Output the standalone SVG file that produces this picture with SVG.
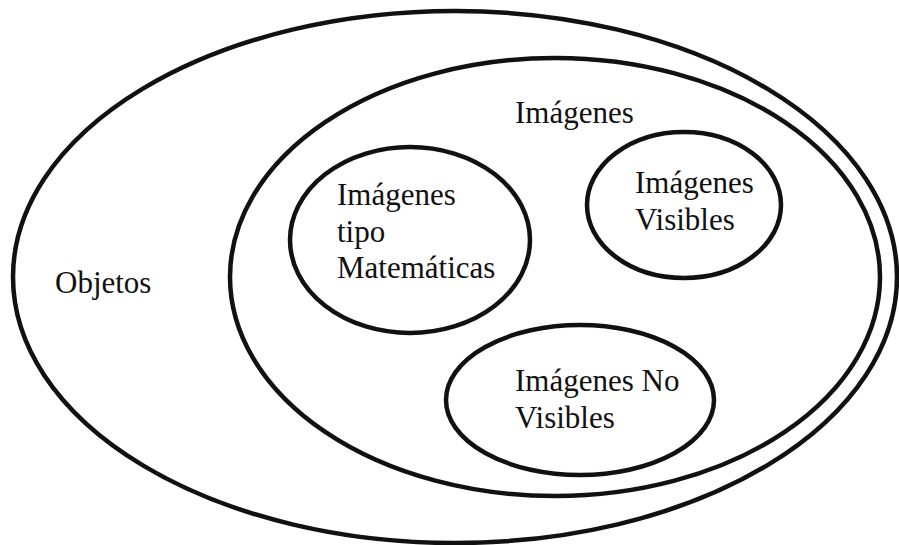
<svg xmlns="http://www.w3.org/2000/svg" width="899" height="545" viewBox="0 0 899 545">
  <style>
    .set { fill: none; stroke: #111; stroke-width: 4.5; }
    .lbl { font-family: "Liberation Serif", "Times New Roman", serif; font-size: 31px; fill: #111; }
  </style>
  <rect width="899" height="545" fill="#fff"/>
  <g id="objetos">
    <ellipse class="set" cx="455" cy="277" rx="442" ry="266"/>
    <text class="lbl" x="55" y="293">Objetos</text>
  </g>
  <g id="imagenes">
    <ellipse class="set" cx="555" cy="277" rx="325" ry="219"/>
    <text class="lbl" x="515" y="123">Imágenes</text>
  </g>
  <g id="imagenes-matematicas">
    <ellipse class="set" cx="410" cy="240" rx="120" ry="93"/>
    <text class="lbl" x="337" y="205">Imágenes</text>
    <text class="lbl" x="337" y="242">tipo</text>
    <text class="lbl" x="337" y="278">Matemáticas</text>
  </g>
  <g id="imagenes-visibles">
    <ellipse class="set" cx="684" cy="205" rx="97" ry="73"/>
    <text class="lbl" x="635" y="193">Imágenes</text>
    <text class="lbl" x="635" y="230">Visibles</text>
  </g>
  <g id="imagenes-no-visibles">
    <ellipse class="set" cx="580" cy="400" rx="134" ry="75"/>
    <text class="lbl" x="515" y="391">Imágenes No</text>
    <text class="lbl" x="515" y="428">Visibles</text>
  </g>
  <g id="connectors"/>
</svg>
